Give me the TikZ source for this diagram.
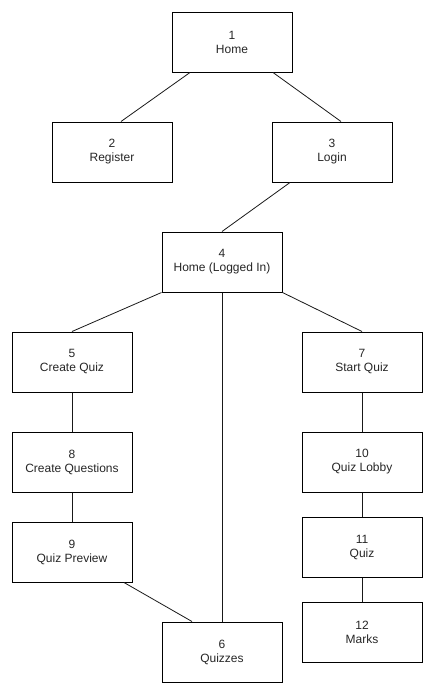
\documentclass[tikz,border=0pt]{standalone}
\usepackage{fontspec}
\setmainfont{Liberation Sans}
\usetikzlibrary{calc}

\begin{document}
\begin{tikzpicture}[x=1pt, y=-1pt,
    page/.style={draw=black, line width=1pt, minimum width=120pt, minimum height=60pt,
        inner sep=0pt, align=center, font=\fontsize{12}{14}\selectfont, text=black!85},
    link/.style={line width=0.8pt, black!90}]
    \useasboundingbox (0,0) rectangle (431,691);

    % top of the site
    \node[page] (home)     at (232,42)  {1\\Home};
    \node[page] (register) at (112,152) {2\\Register};
    \node[page] (login)    at (332,152) {3\\Login};
    \node[page] (homein)   at (222,262) {4\\Home (Logged In)};

    % left branch
    \node[page] (create)    at (72,362) {5\\Create Quiz};
    \node[page] (questions) at (72,462) {8\\Create Questions};
    \node[page] (preview)   at (72,552) {9\\Quiz Preview};
    \node[page] (quizzes)   at (222,652) {6\\Quizzes};

    % right branch
    \node[page] (start) at (362,362) {7\\Start Quiz};
    \node[page] (lobby) at (362,462) {10\\Quiz Lobby};
    \node[page] (quiz)  at (362,547) {11\\Quiz};
    \node[page] (marks) at (362,632) {12\\Marks};

    \draw[link] ([xshift=-42pt]home.south) -- ([xshift=9pt]register.north);
    \draw[link] ([xshift=41pt]home.south) -- ([xshift=9pt]login.north);
    \draw[link] ([xshift=-42pt]login.south) -- (homein.north);

    \draw[link] (homein.south west) -- (create.north);
    \draw[link] (homein.south) -- (quizzes.north);
    \draw[link] (homein.south east) -- (start.north);

    \draw[link] (create) -- (questions);
    \draw[link] (questions) -- (preview);
    \draw[link] ([xshift=52pt]preview.south) -- ([xshift=-30pt]quizzes.north);

    \draw[link] (start) -- (lobby);
    \draw[link] (lobby) -- (quiz);
    \draw[link] (quiz) -- (marks);
\end{tikzpicture}
\end{document}
